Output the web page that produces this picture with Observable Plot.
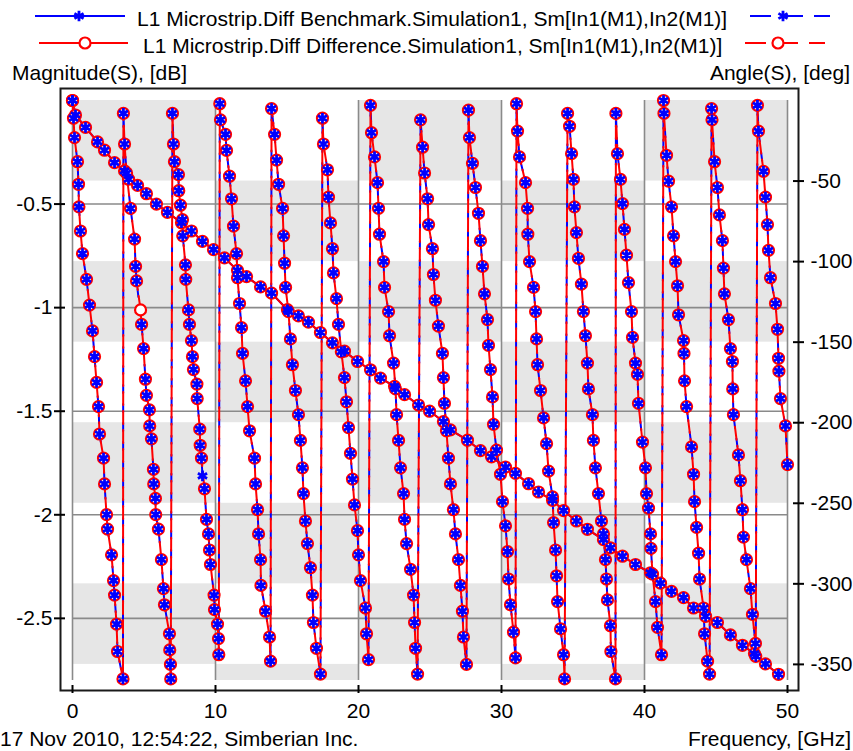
<!DOCTYPE html>
<html>
<head>
<meta charset="utf-8">
<script src="https://cdn.jsdelivr.net/npm/d3@7"></script>
<script src="https://cdn.jsdelivr.net/npm/@observablehq/plot@0.6"></script>
<style>
  body { margin: 0; background: #fff; }
  #wrap { position: relative; width: 853px; height: 751px; overflow: hidden; font-family: "Liberation Sans", Arial, sans-serif; }
  #wrap svg { position: absolute; left: 0; top: 0; }
</style>
</head>
<body>
<div id="wrap"></div>
<script>
// ---------------- data ----------------
const seriesNames = [
  "L1 Microstrip.Diff Benchmark.Simulation1, Sm[In1(M1),In2(M1)]",
  "L1 Microstrip.Diff Difference.Simulation1, Sm[In1(M1),In2(M1)]"
];
const xTitle = "Frequency, [GHz]";
const yLeftTitle = "Magnitude(S), [dB]";
const yRightTitle = "Angle(S), [deg]";
const stamp = "17 Nov 2010, 12:54:22, Simberian Inc.";

const xTicks = [0, 10, 20, 30, 40, 50];
const magTicks = [-0.5, -1, -1.5, -2, -2.5];
const angleTicks = [-50, -100, -150, -200, -250, -300, -350];
const angleBands = [0, -50, -100, -150, -200, -250, -300, -350, -360];

// Magnitude, dB (both series coincide)
const magFreq = [0,0.21,0.91,1.75,2.24,2.94,3.64,3.92,4.55,5.17,5.87,6.64,7.62,8.32,9.09,9.86,10.63,11.54,12.17,13.15,
  13.92,15.03,15.80,16.50,17.34,18.18,19.02,19.93,20.84,21.54,22.52,23.22,24.20,24.97,25.94,26.43,27.62,28.53,29.30,30.28,
  30.98,31.89,32.59,33.57,34.34,35.24,36.01,37.13,37.62,38.46,39.37,40.42,41.12,41.89,42.73,43.43,44.27,45.10,46.01,46.85,
  47.69,48.46,49.37];
const magDb = [0,-0.07,-0.13,-0.20,-0.24,-0.30,-0.34,-0.38,-0.41,-0.45,-0.50,-0.54,-0.59,-0.63,-0.68,-0.72,-0.76,-0.82,-0.85,-0.90,
  -0.93,-1.01,-1.04,-1.07,-1.12,-1.17,-1.21,-1.26,-1.30,-1.34,-1.38,-1.42,-1.47,-1.50,-1.55,-1.59,-1.64,-1.69,-1.72,-1.77,
  -1.80,-1.85,-1.89,-1.93,-1.98,-2.03,-2.07,-2.12,-2.16,-2.20,-2.24,-2.28,-2.33,-2.37,-2.40,-2.45,-2.49,-2.52,-2.58,-2.63,
  -2.67,-2.72,-2.77];

// Angle, deg (wrapped), points shared by both series
const phaseFreq = [
  0,0.07,0.14,0.35,0.42,0.45,0.56,0.70,0.98,1.19,1.40,1.54,1.68,1.82,1.89,2.17,2.24,2.38,2.45,2.73,2.87,2.94,3.08,3.15,3.53,
  3.56,3.64,3.78,4.06,4.34,4.41,4.48,4.83,4.97,5.10,5.17,5.38,5.40,5.52,5.66,5.68,5.80,5.82,6.01,6.22,6.36,6.43,6.78,6.80,6.85,6.87,
  6.99,7.06,7.13,7.41,7.43,7.55,7.69,7.71,7.90,7.92,8.11,8.18,8.32,8.39,8.46,8.70,8.72,8.90,8.93,9.02,9.23,9.37,9.51,9.58,9.65,9.90,9.93,10.14,10.21,10.23,
  10.30,10.35,10.70,10.77,10.98,11.12,11.26,11.47,11.54,11.68,11.82,11.89,12.10,12.24,12.38,12.73,12.80,12.94,13.01,13.15,13.18,13.50,13.78,13.85,
  13.92,14.13,14.27,14.41,14.69,14.76,14.83,14.90,15.10,15.24,15.38,15.59,15.80,15.94,16.08,16.15,16.29,16.43,16.64,16.78,16.85,17.06,17.34,
  17.48,17.55,17.83,17.90,18.04,18.18,18.25,18.46,18.60,18.80,19.02,19.16,19.30,19.44,19.58,19.72,19.93,20.00,20.14,20.49,20.56,20.70,
  20.84,20.91,21.12,21.33,21.40,21.47,21.75,21.82,22.10,22.17,22.45,22.59,22.66,22.80,22.94,23.15,23.22,23.36,23.64,23.85,23.92,23.99,24.13,
  24.34,24.48,24.62,24.83,24.90,25.17,25.24,25.38,25.59,25.87,25.94,26.01,26.15,26.29,26.43,26.64,26.78,26.99,27.13,27.27,27.34,27.55,
  27.69,27.76,27.97,28.18,28.39,28.53,28.67,28.81,29.02,29.09,29.23,29.37,29.44,29.65,29.93,30.07,30.28,30.42,30.49,30.63,30.84,30.98,
  31.05,31.12,31.26,31.68,31.82,31.84,31.96,32.24,32.38,32.45,32.52,32.73,32.94,33.15,33.29,33.57,33.64,33.78,33.85,33.92,34.13,34.34,34.41,
  34.62,34.76,34.90,35.03,35.10,35.24,35.38,35.59,35.73,35.87,36.01,36.08,36.36,36.43,36.57,36.78,36.99,37.13,37.27,37.34,37.41,37.62,37.65,37.97,
  38.00,38.11,38.32,38.46,38.60,38.74,38.88,39.09,39.16,39.37,39.51,39.58,39.86,40.07,40.14,40.28,40.42,40.45,40.56,40.77,40.91,41.19,
  41.33,41.36,41.54,41.68,41.89,42.03,42.17,42.31,42.38,42.73,42.76,42.80,42.94,43.29,43.43,43.50,43.64,43.78,43.85,44.13,44.20,44.41,44.55,
  44.69,44.72,44.90,45.10,45.24,45.45,45.52,45.59,45.87,46.01,46.15,46.17,46.22,46.57,46.71,46.85,46.92,47.13,47.41,47.55,47.76,47.78,
  47.90,47.97,48.32,48.46,48.60,48.67,48.81,49.16,49.30,49.37,49.40,49.51,49.86,50.00
];
const phaseDeg = [
  0,-11,-23,-38,-52,-66,-81,-95,-111,-127,-143,-159,-175,-190,-207,-222,-238,-257,-266,-282,-298,-307,-325,-342,-359,
  -8,-27,-45,-67,-86,-103,-112,-139,-154,-173,-183,-192,-202,-210,-229,-238,-247,-257,-266,-285,-303,-313,-331,-341,-350,-359,
  -8,-27,-38,-46,-56,-65,-74,-84,-102,-111,-130,-139,-149,-159,-167,-176,-185,-204,-214,-222,-241,-260,-269,-279,-288,-307,-316,-325,-334,-344,
  -2,-12,-21,-31,-47,-61,-78,-95,-110,-126,-141,-157,-174,-190,-205,-222,-238,-254,-269,-285,-301,-317,-333,-348,
  -5,-21,-37,-52,-67,-84,-101,-116,-131,-148,-164,-180,-195,-211,-228,-244,-261,-275,-290,-307,-324,-340,-356,
  -11,-27,-43,-60,-76,-92,-107,-123,-139,-156,-172,-187,-203,-219,-235,-251,-267,-282,-298,-315,-331,-347,
  -3,-20,-35,-51,-67,-83,-100,-116,-131,-146,-163,-179,-195,-211,-228,-244,-260,-275,-291,-307,-324,-340,-356,
  -12,-29,-45,-61,-77,-92,-108,-124,-140,-157,-172,-188,-205,-222,-238,-254,-269,-285,-301,-317,-333,-350,
  -6,-23,-39,-54,-70,-87,-103,-120,-136,-152,-167,-184,-201,-217,-232,-249,-264,-280,-297,-313,-330,-346,
  -2,-19,-35,-51,-67,-83,-100,-116,-131,-148,-164,-180,-197,-213,-230,-246,-262,-279,-295,-311,-328,-344,-359,
  -8,-16,-33,-49,-66,-82,-98,-114,-131,-146,-163,-179,-195,-211,-228,-244,-261,-269,-285,-297,-310,-326,-342,-359,
  -8,-33,-49,-64,-80,-96,-113,-131,-147,-163,-170,-188,-212,-228,-244,-253,-269,-278,-294,-311,-327,-344,
  0,-8,-34,-50,-66,-84,-100,-115,-133,-149,-157,-174,-190,-215,-232,-249,-265,-281,-297,-315,-331,-348,-356,
  -5,-12,-38,-54,-71,-87,-104,-120,-136,-154,-162,-179,-195,-220,-236,-254,-271,-285,-303,-319,-337,-345,
  -3,-19,-44,-60,-77,-93,-110,-126,-142,-160,-168,-185,-202,-226
];
// points present in only one of the two series
const benchOnlyFreq = [9.09];
const benchOnlyDeg = [-233];
const diffOnlyFreq = [4.76];
const diffOnlyDeg = [-130];

// ---------------- helpers ----------------
const MAG_MIN = -2.8;                 // left axis bottom (dB)
const K = -MAG_MIN / 360;             // deg -> left-axis units (0..-360 deg spans 0..-2.8 dB)
const toY = d => d * K;

const cells = [];
for (let i = 0; i < xTicks.length - 1; i++)
  for (let j = 0; j < angleBands.length - 1; j++)
    if ((i + j) % 2 === 0)
      cells.push({x1: xTicks[i], x2: xTicks[i + 1], y1: toY(angleBands[j]), y2: toY(angleBands[j + 1])});

const mag = magFreq.map((f, i) => ({f, v: magDb[i]}));
const shared = phaseFreq.map((f, i) => ({f, v: toY(phaseDeg[i])}));
const bench = shared.concat(benchOnlyFreq.map((f, i) => ({f, v: toY(benchOnlyDeg[i])}))).sort((a, b) => a.f - b.f);
const diff = shared.concat(diffOnlyFreq.map((f, i) => ({f, v: toY(diffOnlyDeg[i])}))).sort((a, b) => a.f - b.f);

const BLUE = "#0000ff", RED = "#ff0000";
const FONT = "'Liberation Sans', Arial, sans-serif";
const STAR_R = 5, STAR_W = 2.8;

const plot = Plot.plot({
  width: 853, height: 751,
  marginLeft: 72, marginRight: 66, marginTop: 100, marginBottom: 71,
  x: {domain: [0, 50]},
  y: {domain: [MAG_MIN, 0]},
  style: {fontFamily: FONT, fontSize: "21px", color: "#000", background: "transparent"},
  marks: [
    Plot.rect(cells, {x1: "x1", x2: "x2", y1: "y1", y2: "y2", fill: "#e6e6e6"}),
    Plot.gridX(xTicks, {stroke: "#8a8a8a", strokeOpacity: 1, strokeWidth: 1.6}),
    Plot.gridY(magTicks, {stroke: "#8a8a8a", strokeOpacity: 1, strokeWidth: 1.6}),
    Plot.frame({stroke: "#1a1a1a", strokeWidth: 2, insetLeft: -12, insetRight: -11, insetTop: -12, insetBottom: -10}),
    Plot.axisX(xTicks, {anchor: "bottom", dy: 5, tickSize: 8, tickPadding: 10, strokeWidth: 2, tickFormat: d => String(d), label: null}),
    Plot.axisY(magTicks, {anchor: "left", dx: -7, tickSize: 11, tickPadding: 2, strokeWidth: 2, tickFormat: d => String(d), label: null}),
    Plot.axisY(angleTicks.map(toY), {anchor: "right", dx: 5, tickSize: 11, tickPadding: 7, strokeWidth: 2, tickFormat: d => String(Math.round(d / K)), label: null}),
    // Benchmark (blue)
    Plot.line(mag, {x: "f", y: "v", stroke: BLUE, strokeWidth: 2}),
    Plot.line(bench, {x: "f", y: "v", stroke: BLUE, strokeWidth: 2, strokeDasharray: "8,11", strokeDashoffset: 7}),
    // Difference (red)
    Plot.line(mag, {x: "f", y: "v", stroke: RED, strokeWidth: 2}),
    Plot.line(diff, {x: "f", y: "v", stroke: RED, strokeWidth: 2, strokeDasharray: "13,6"}),
    Plot.dot(mag, {x: "f", y: "v", r: 5.5, stroke: RED, strokeWidth: 2.2, fill: "white"}),
    Plot.dot(diff, {x: "f", y: "v", r: 5.5, stroke: RED, strokeWidth: 2.2, fill: "white"}),
    Plot.dot(mag, {x: "f", y: "v", r: STAR_R, symbol: "asterisk", stroke: BLUE, strokeWidth: STAR_W}),
    Plot.dot(bench, {x: "f", y: "v", r: STAR_R, symbol: "asterisk", stroke: BLUE, strokeWidth: STAR_W})
  ]
});

const wrap = document.getElementById("wrap");
wrap.appendChild(plot);

// ---------------- legend, axis titles and captions ----------------
const ov = d3.create("svg").attr("width", 853).attr("height", 751)
  .style("font-family", FONT).style("font-size", "21px");
const ast = d3.symbol(d3.symbolAsterisk, Math.PI * STAR_R * STAR_R)();
const legendRows = [
  {name: seriesNames[0], color: BLUE, y: 16, marker: "asterisk", x0: 35, x1: 125, mx: 79, tx: 137, r0: 750, r1: 830, rm: 783},
  {name: seriesNames[1], color: RED, y: 43, marker: "circle", x0: 39, x1: 128, mx: 85, tx: 143, r0: 745, r1: 825, rm: 778}
];
legendRows.forEach(row => {
  const g = ov.append("g");
  g.append("line").attr("x1", row.x0).attr("x2", row.x1).attr("y1", row.y).attr("y2", row.y)
    .attr("stroke", row.color).attr("stroke-width", 2);
  g.append("line").attr("x1", row.r0).attr("x2", row.r1).attr("y1", row.y).attr("y2", row.y)
    .attr("stroke", row.color).attr("stroke-width", 2).attr("stroke-dasharray", "21,11");
  [row.mx, row.rm].forEach(mx => {
    if (row.marker === "asterisk")
      g.append("path").attr("d", ast).attr("transform", `translate(${mx},${row.y})`)
        .attr("fill", "none").attr("stroke", row.color).attr("stroke-width", STAR_W);
    else
      g.append("circle").attr("cx", mx).attr("cy", row.y).attr("r", 5.5)
        .attr("fill", "white").attr("stroke", row.color).attr("stroke-width", 2.2);
  });
  g.append("text").attr("x", row.tx).attr("y", row.y + 10).text(row.name);
});
ov.append("text").attr("x", 12).attr("y", 80).text(yLeftTitle);
ov.append("text").attr("x", 850).attr("y", 80).attr("text-anchor", "end").text(yRightTitle);
ov.append("text").attr("x", 0).attr("y", 746).text(stamp);
ov.append("text").attr("x", 851).attr("y", 746).attr("text-anchor", "end").text(xTitle);
wrap.appendChild(ov.node());
</script>
</body>
</html>
